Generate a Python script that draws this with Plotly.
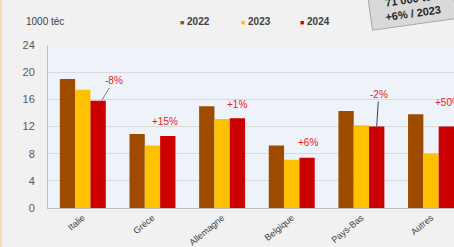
import plotly.graph_objects as go

categories = ["Italie", "Grèce", "Allemagne", "Belgique", "Pays-Bas", "Autres"]
v2022 = [19.0, 10.9, 15.0, 9.2, 14.3, 13.8]
v2023 = [17.4, 9.2, 13.1, 7.1, 12.2, 8.0]
v2024 = [15.8, 10.6, 13.2, 7.4, 12.0, 12.0]
changes = ["-8%", "+15%", "+1%", "+6%", "-2%", "+50%"]
years = ["2022", "2023", "2024"]
colors = ["#9E4B00", "#FFC000", "#CC0000"]
y_ticks = [0, 4, 8, 12, 16, 20, 24]

FONT = "Liberation Sans"
fig = go.Figure()
for yr, vals, col in zip(years, [v2022, v2023, v2024], colors):
    fig.add_trace(go.Bar(name=yr, x=categories, y=vals, marker=dict(color=col, line=dict(width=0))))

label_pos = [(0.42, 19.0), (1.18, 12.7), (2.22, 15.3), (3.24, 9.6), (4.26, 17.1), (5.25, 15.6)]
anns = []
for i, (txt, (lx, ly)) in enumerate(zip(changes, label_pos)):
    if i in (0, 4):
        continue
    anns.append(dict(x=lx, y=ly, xref="x", yref="y", text=txt, showarrow=False,
                     font=dict(color="#E8202A", size=10, family=FONT)))
anns.append(dict(x=0.27, y=v2024[0], xref="x", yref="y", text=changes[0], showarrow=True,
                 arrowhead=0, arrowwidth=1, arrowcolor="#7f7f7f", ax=12, ay=-20,
                 font=dict(color="#E8202A", size=10, family=FONT)))
anns.append(dict(x=4.22, y=v2024[4], xref="x", yref="y", text=changes[4], showarrow=True,
                 arrowhead=0, arrowwidth=1, arrowcolor="#404040", ax=2, ay=-32,
                 font=dict(color="#E8202A", size=10, family=FONT)))
anns.append(dict(x=(24 - 48) / 406, y=(208 - 22) / 163, xref="paper", yref="paper", text="1000 téc",
                 showarrow=False, xanchor="left", yanchor="middle",
                 font=dict(color="#404040", size=10, family=FONT)))
leg_x = [178, 239, 298]
for yr, col, px in zip(years, colors, leg_x):
    anns.append(dict(x=(px - 48) / 406, y=(208 - 22) / 163, xref="paper", yref="paper",
                     text=f"<span style='color:{col};font-size:7px'>■</span> <b>{yr}</b>", showarrow=False,
                     xanchor="left", yanchor="middle",
                     font=dict(color="#404040", size=10, family=FONT)))
anns.append(dict(x=(412 - 48) / 406, y=(208 - 6) / 163, xref="paper", yref="paper",
                 text="<b>&nbsp;&nbsp;&nbsp;71 000 téc&nbsp;&nbsp;&nbsp;<br>&nbsp;&nbsp;&nbsp;+6% / 2023&nbsp;&nbsp;&nbsp;</b>",
                 showarrow=False, textangle=-8, xanchor="center", yanchor="middle",
                 bgcolor="#D9D9D9", bordercolor="#A6A6A6", borderwidth=1, borderpad=5,
                 font=dict(color="#262626", size=11, family=FONT)))

fig.update_layout(
    width=454, height=247,
    margin=dict(l=48, r=0, t=45, b=39, autoexpand=False),
    paper_bgcolor="#F1F1F1",
    plot_bgcolor="#EEF3FA",
    barmode="group", bargap=0.34, bargroupgap=0,
    font=dict(family=FONT, size=9, color="#595959"),
    showlegend=False,
    annotations=anns,
    shapes=[dict(type="line", xref="paper", yref="paper", x0=-0.117, x1=-0.117, y0=-0.3, y1=1.3,
                 line=dict(color="#F5D7B8", width=2))],
    xaxis=dict(range=[-0.5, 5.33], tickangle=-40, showgrid=False, showline=True, automargin=False,
               linecolor="#BFBFBF", linewidth=1, ticks="", tickfont=dict(size=9, color="#404040")),
    yaxis=dict(range=[0, 24], tickvals=y_ticks, showgrid=True, gridcolor="#D9D9D9", automargin=False,
               gridwidth=1, zeroline=False, showline=True, linecolor="#BFBFBF",
               ticks="", ticklabelstandoff=10, tickfont=dict(size=11, color="#595959")),
)
fig.write_html("out.html", config={"displayModeBar": False},
               post_script="document.body.style.margin='0';document.body.style.overflow='hidden';")
